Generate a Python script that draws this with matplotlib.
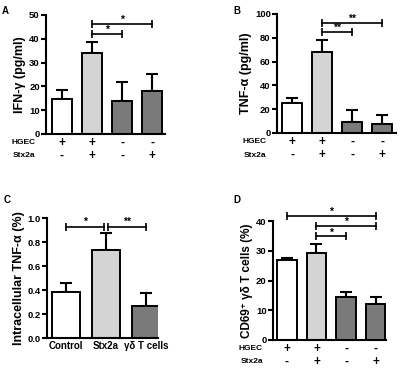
import numpy as np
import matplotlib.pyplot as plt

plt.rcParams['font.family'] = ['Liberation Sans', 'DejaVu Sans']
plt.rcParams['font.weight'] = 'bold'

# panel A: IFN-gamma
ifn_mean = [14.5, 34.0, 14.0, 18.0]
ifn_err = [4.0, 4.7, 7.7, 7.0]
# panel B: TNF-alpha
tnf_mean = [25.0, 68.0, 9.5, 7.5]
tnf_err = [4.0, 10.0, 10.0, 8.0]
# panel C: intracellular TNF-alpha
intra_labels = ['Control', 'Stx2a', 'γδ T cells']
intra_mean = [0.39, 0.74, 0.27]
intra_err = [0.075, 0.14, 0.105]
# panel D: CD69+ gd T cells
cd69_mean = [26.8, 29.3, 14.5, 12.2]
cd69_err = [0.8, 3.2, 1.7, 2.3]

hgec = ['+', '+', '-', '-']
stx2a = ['-', '+', '-', '+']
colors4 = ['white', '#d4d4d4', '#7a7a7a', '#7a7a7a']
colors3 = ['white', '#d4d4d4', '#7a7a7a']

fig = plt.figure(figsize=(4, 3.68), dpi=100)


def style_axis(ax, ymax, ystep, fmt='{:.0f}'):
    for s in ['top', 'right']:
        ax.spines[s].set_visible(False)
    for s in ['left', 'bottom']:
        ax.spines[s].set_linewidth(1.5)
    ticks = np.arange(0, ymax + ystep / 2, ystep)
    ax.set_yticks(ticks)
    ax.set_yticklabels([fmt.format(t) for t in ticks], fontsize=6.8, fontweight='bold')
    ax.set_ylim(0, ymax)
    ax.tick_params(axis='y', direction='out', length=3.5, width=1.5, pad=1)
    ax.tick_params(axis='x', direction='in', length=3.5, width=1.5)


def bars(ax, mean, err, colors, width):
    x = np.arange(len(mean))
    ax.errorbar(x, mean, yerr=[np.zeros(len(err)), err], fmt='none',
                ecolor='black', elinewidth=1.5, capsize=4, capthick=1.5, zorder=1)
    ax.bar(x, mean, width=width, color=colors, edgecolor='black', linewidth=1.4, zorder=2)
    return x


def bracket(ax, x1, x2, y, txt, dy):
    ax.plot([x1, x2], [y, y], color='black', lw=1.2, marker='|', markersize=6,
            markeredgewidth=1.2, clip_on=False)
    ax.text((x1 + x2) / 2, y + dy, txt, ha='center', va='center', fontsize=7.5,
            fontweight='bold')


def rows(ax, x):
    trans = ax.get_xaxis_transform()
    for i in x:
        ax.text(i, -0.075, hgec[i], ha='center', va='center', fontsize=8.5, transform=trans)
        ax.text(i, -0.185, stx2a[i], ha='center', va='center', fontsize=8.5, transform=trans)
    ax.text(-0.09, -0.075, 'HGEC', ha='right', va='center', fontsize=6, transform=ax.transAxes)
    ax.text(-0.09, -0.185, 'Stx2a', ha='right', va='center', fontsize=6, transform=ax.transAxes)


# A
axA = fig.add_axes([0.115, 0.636, 0.2975, 0.3234])
x = bars(axA, ifn_mean, ifn_err, colors4, 0.67)
style_axis(axA, 50, 10)
axA.set_xlim(-0.53, 3.43)
axA.set_xticks(x)
axA.set_xticklabels([])
axA.set_ylabel('IFN-γ (pg/ml)', fontsize=9, fontweight='bold', labelpad=2)
rows(axA, x)
bracket(axA, 1, 2, 42.1, '*', 1.8)
bracket(axA, 1, 3, 46.1, '*', 1.8)
fig.text(0.005, 0.985, 'A', fontsize=7, fontweight='bold', va='top')

# B
axB = fig.add_axes([0.6925, 0.6386, 0.2975, 0.3234])
x = bars(axB, tnf_mean, tnf_err, colors4, 0.67)
style_axis(axB, 100, 20)
axB.set_xlim(-0.5, 3.46)
axB.set_xticks(x)
axB.set_xticklabels([])
axB.set_ylabel('TNF-α (pg/ml)', fontsize=9, fontweight='bold', labelpad=2)
rows(axB, x)
bracket(axB, 1, 2, 85, '**', 3.5)
bracket(axB, 1, 3, 92.7, '**', 3.5)
fig.text(0.583, 0.985, 'B', fontsize=7, fontweight='bold', va='top')

# C
axC = fig.add_axes([0.1175, 0.0807, 0.2775, 0.326])
x = bars(axC, intra_mean, intra_err, colors3, 0.68)
style_axis(axC, 1.0, 0.2, '{:.1f}')
axC.set_xlim(-0.475, 2.3)
axC.set_xticks(x)
axC.set_xticklabels(intra_labels, fontsize=7, fontweight='bold')
axC.tick_params(axis='x', pad=2)
axC.set_ylabel('Intracellular TNF-α (%)', fontsize=9, fontweight='bold', labelpad=2)
bracket(axC, 0, 0.95, 0.93, '*', 0.04)
bracket(axC, 1.06, 1.99, 0.93, '**', 0.04)
fig.text(0.01, 0.47, 'C', fontsize=7, fontweight='bold', va='top')

# D
axD = fig.add_axes([0.6825, 0.0761, 0.2825, 0.3226])
x = bars(axD, cd69_mean, cd69_err, colors4, 0.65)
style_axis(axD, 40, 10)
axD.set_xlim(-0.47, 3.35)
axD.set_xticks(x)
axD.set_xticklabels([])
axD.set_ylabel('CD69⁺ γδ T cells (%)', fontsize=8.5, fontweight='bold', labelpad=2)
rows(axD, x)
bracket(axD, 0, 3, 41.9, '*', 1.3)
bracket(axD, 1, 3, 38.4, '*', 1.3)
bracket(axD, 1, 2, 34.9, '*', 1.3)
fig.text(0.583, 0.47, 'D', fontsize=7, fontweight='bold', va='top')

fig.savefig('out.png', dpi=100)
